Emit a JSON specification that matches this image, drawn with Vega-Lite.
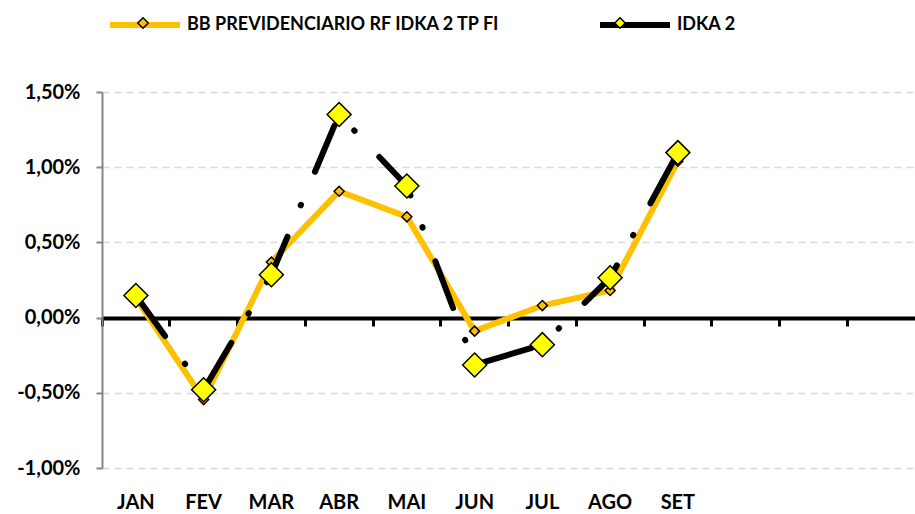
{
  "$schema": "https://vega.github.io/schema/vega-lite/v6.json",
  "width": 813,
  "height": 376,
  "autosize": {"type": "none"},
  "padding": {"left": 102, "top": 92, "right": 0, "bottom": 46},
  "background": "white",
  "config": {"view": {"stroke": null}, "font": "Lato"},
  "data": {
    "values": [
      {"mes": "JAN", "serie": "BB PREVIDENCIARIO RF IDKA 2 TP FI", "valor": 0.13},
      {"mes": "FEV", "serie": "BB PREVIDENCIARIO RF IDKA 2 TP FI", "valor": -0.545},
      {"mes": "MAR", "serie": "BB PREVIDENCIARIO RF IDKA 2 TP FI", "valor": 0.37},
      {"mes": "ABR", "serie": "BB PREVIDENCIARIO RF IDKA 2 TP FI", "valor": 0.84},
      {"mes": "MAI", "serie": "BB PREVIDENCIARIO RF IDKA 2 TP FI", "valor": 0.67},
      {"mes": "JUN", "serie": "BB PREVIDENCIARIO RF IDKA 2 TP FI", "valor": -0.09},
      {"mes": "JUL", "serie": "BB PREVIDENCIARIO RF IDKA 2 TP FI", "valor": 0.08},
      {"mes": "AGO", "serie": "BB PREVIDENCIARIO RF IDKA 2 TP FI", "valor": 0.18},
      {"mes": "SET", "serie": "BB PREVIDENCIARIO RF IDKA 2 TP FI", "valor": 1.04},
      {"mes": "JAN", "serie": "IDKA 2", "valor": 0.147},
      {"mes": "FEV", "serie": "IDKA 2", "valor": -0.48},
      {"mes": "MAR", "serie": "IDKA 2", "valor": 0.285},
      {"mes": "ABR", "serie": "IDKA 2", "valor": 1.35},
      {"mes": "MAI", "serie": "IDKA 2", "valor": 0.875},
      {"mes": "JUN", "serie": "IDKA 2", "valor": -0.315},
      {"mes": "JUL", "serie": "IDKA 2", "valor": -0.18},
      {"mes": "AGO", "serie": "IDKA 2", "valor": 0.265},
      {"mes": "SET", "serie": "IDKA 2", "valor": 1.097}
    ]
  },
  "encoding": {
    "y": {
      "field": "valor",
      "type": "quantitative",
      "scale": {"domain": [-1, 1.5], "nice": false, "zero": false},
      "axis": {
        "title": null,
        "values": [-1, -0.5, 0, 0.5, 1, 1.5],
        "labelExpr": "replace(replace(format(datum.value, '.2f'), '.', ','), '\u2212', '-') + '%'",
        "grid": true,
        "gridColor": "#D9D9D9",
        "gridDash": [7, 5],
        "gridWidth": 1.5,
        "domainColor": "#868686",
        "domainWidth": 2,
        "tickColor": "#868686",
        "tickWidth": 2,
        "tickSize": 6,
        "labelFont": "Lato",
        "labelFontSize": 20,
        "labelFontWeight": "bold",
        "labelColor": "#000000",
        "labelPadding": 16
      }
    }
  },
  "resolve": {"axis": {"x": "independent"}},
  "layer": [
    {
      "transform": [{"filter": "datum.serie == 'BB PREVIDENCIARIO RF IDKA 2 TP FI'"}],
      "mark": {"type": "line", "strokeWidth": 6, "strokeJoin": "round"},
      "encoding": {
        "x": {
          "field": "mes",
          "type": "ordinal",
          "bandPosition": 0.5,
          "scale": {"type": "band", "domain": ["JAN", "FEV", "MAR", "ABR", "MAI", "JUN", "JUL", "AGO", "SET", "OUT", "NOV", "DEZ"], "paddingInner": 0, "paddingOuter": 0},
          "axis": {
            "title": null,
            "offset": -150,
            "grid": false,
            "bandPosition": 0,
            "domain": true,
            "domainColor": "#000000",
            "domainWidth": 4,
            "ticks": true,
            "tickColor": "#000000",
            "tickWidth": 3,
            "tickSize": 8,
            "labelAngle": 0,
            "labelExpr": "indexof(['OUT','NOV','DEZ'], datum.value) >= 0 ? '' : datum.label",
            "labelFont": "Lato",
            "labelFontSize": 20,
            "labelFontWeight": "bold",
            "labelColor": "#000000",
            "labelPadding": 166
          }
        },
        "stroke": {
          "field": "serie",
          "type": "nominal",
          "scale": {"range": ["#FFC000", "#000000"]},
          "legend": {
            "title": null,
            "orient": "none",
            "legendX": 5,
            "legendY": -105,
            "direction": "horizontal",
            "padding": 0,
            "symbolType": "stroke",
            "symbolSize": 4900,
            "symbolStrokeWidth": 6,
            "symbolDash": [1, 0],
            "labelFont": "Lato",
            "labelFontSize": 18,
            "labelFontWeight": "bold",
            "labelColor": "#000000",
            "labelLimit": 500,
            "labelOffset": 4,
            "columnPadding": 87
          }
        }
      }
    },
    {
      "transform": [{"filter": "datum.serie == 'BB PREVIDENCIARIO RF IDKA 2 TP FI'"}],
      "mark": {"type": "point", "shape": "diamond", "size": 100, "filled": true, "opacity": 1, "stroke": "#000000", "strokeWidth": 1.5},
      "encoding": {
        "x": {
          "field": "mes",
          "type": "ordinal",
          "bandPosition": 0.5,
          "scale": {"type": "band", "domain": ["JAN", "FEV", "MAR", "ABR", "MAI", "JUN", "JUL", "AGO", "SET", "OUT", "NOV", "DEZ"], "paddingInner": 0, "paddingOuter": 0},
          "axis": null
        },
        "fill": {
          "field": "serie",
          "type": "nominal",
          "scale": {"domain": ["BB PREVIDENCIARIO RF IDKA 2 TP FI", "IDKA 2"], "range": ["#FFC000", "#FFFF00"]},
          "legend": {
            "title": null,
            "orient": "none",
            "legendX": 5,
            "legendY": -105,
            "direction": "horizontal",
            "padding": 0,
            "symbolType": "M-0.15,0L0,-0.15L0.15,0L0,0.15Z",
            "symbolSize": 4900,
            "symbolStrokeColor": "#000000",
            "symbolStrokeWidth": 1.5,
            "symbolOpacity": 1,
            "labelFont": "Lato",
            "labelFontSize": 18,
            "labelFontWeight": "bold",
            "labelOpacity": 0,
            "labelLimit": 500,
            "labelOffset": 4,
            "columnPadding": 87
          }
        }
      }
    },
    {
      "transform": [{"filter": "datum.serie == 'IDKA 2'"}],
      "mark": {"type": "line", "strokeWidth": 6, "strokeCap": "round", "strokeJoin": "round", "strokeDash": [50, 34, 0.5, 36]},
      "encoding": {
        "x": {
          "field": "mes",
          "type": "ordinal",
          "bandPosition": 0.5,
          "scale": {"type": "band", "domain": ["JAN", "FEV", "MAR", "ABR", "MAI", "JUN", "JUL", "AGO", "SET", "OUT", "NOV", "DEZ"], "paddingInner": 0, "paddingOuter": 0},
          "axis": null
        },
        "stroke": {"field": "serie", "type": "nominal"}
      }
    },
    {
      "transform": [{"filter": "datum.serie == 'IDKA 2'"}],
      "mark": {"type": "point", "shape": "diamond", "size": 576, "filled": true, "opacity": 1, "stroke": "#000000", "strokeWidth": 1.5},
      "encoding": {
        "x": {
          "field": "mes",
          "type": "ordinal",
          "bandPosition": 0.5,
          "scale": {"type": "band", "domain": ["JAN", "FEV", "MAR", "ABR", "MAI", "JUN", "JUL", "AGO", "SET", "OUT", "NOV", "DEZ"], "paddingInner": 0, "paddingOuter": 0},
          "axis": null
        },
        "fill": {"field": "serie", "type": "nominal"}
      }
    }
  ]
}
